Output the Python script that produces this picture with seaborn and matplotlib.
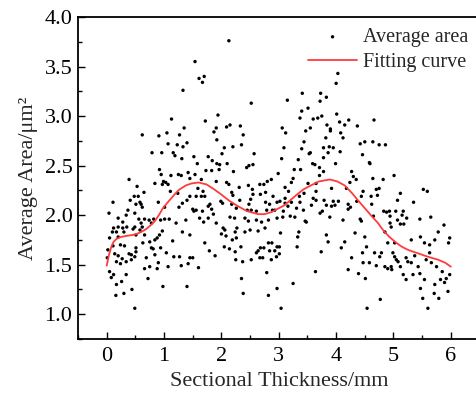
import matplotlib
matplotlib.use("Agg")
import matplotlib.pyplot as plt
import seaborn as sns
import pandas as pd
from matplotlib.ticker import MultipleLocator, FormatStrFormatter

# ---------------- data ----------------
# scattered measurements (thickness mm, average area um^2), grouped by picture region
pts_high = [(1.13,2.97),(1.35,2.88),(1.33,3.26),(1.54,3.55),(1.61,3.38),(1.70,3.40),(1.67,3.34),
            (1.72,2.95),(1.94,3.01),(2.13,3.76),(1.91,2.88),(2.09,2.89),(2.15,2.91),
            (4.03,3.43),(4.00,3.33),(2.52,3.13),(3.15,3.16),(3.41,3.23),(3.73,3.23),(3.83,3.19),
            (3.72,3.15),(3.51,3.08),(3.40,3.05),(3.37,2.98),(3.60,2.97),(3.68,2.98),(3.75,3.00),
            (4.01,3.02),(4.22,2.96),(4.66,2.96),(2.33,2.90),(3.06,2.88),(3.55,2.88),(3.84,2.91),
            (3.90,2.87),(4.06,2.94),(4.15,2.91),(4.37,2.90)]
pts_mid_a = [(.62,2.81),(.91,2.80),(1.05,2.83),(1.27,2.81),(1.40,2.73),(1.07,2.72),(1.23,2.71),(1.33,2.69),
             (.79,2.63),(.96,2.63),(1.16,2.63),(1.19,2.60),(1.31,2.57),(.92,2.46),(.95,2.41),(1.12,2.40),
             (1.25,2.41),(1.30,2.40),(1.42,2.43),(.39,2.36),(.84,2.32),(.99,2.34),(1.03,2.33),(1.07,2.31),
             (.97,2.31),(1.11,2.24),(1.24,2.22),(.53,2.29),(.65,2.23),(.11,2.13),(.48,2.19),(.55,2.19),
             (.41,2.15),(.58,2.13),(.60,2.11),(.51,2.11),(.62,2.08),(.90,2.13),(1.01,2.08),(1.26,2.08),
             (1.32,2.12),(1.40,2.15),(.04,2.02),(.37,2.05),(.34,2.00),(.20,1.97),(.49,2.02),(.56,1.96),
             (.66,1.96),(.74,1.95),(.82,1.96),(.94,1.95),(1.01,1.96),(1.09,1.96),(1.21,1.92),(1.38,1.95),
             (.28,1.93),(.60,1.92),(.78,1.92)]
pts_mid_b = [(1.87,2.84),(2.38,2.81),(1.92,2.76),(2.35,2.71),(2.20,2.69),(2.05,2.68),(2.01,2.62),(2.57,2.62),
             (1.52,2.59),(1.77,2.59),(1.84,2.55),(1.92,2.52),(1.97,2.51),(2.10,2.52),(1.58,2.52),(1.73,2.45),
             (1.83,2.45),(1.96,2.46),(2.21,2.44),(2.44,2.48),(2.48,2.50),(2.55,2.51),(2.99,2.42),(1.54,2.41),
             (1.45,2.37),(1.65,2.36),(1.91,2.34),(2.09,2.33),(2.13,2.31),(2.87,2.36),(2.80,2.34),(2.67,2.31),
             (2.74,2.31),(1.59,2.27),(1.68,2.24),(2.31,2.28),(2.47,2.30),(2.54,2.26),(2.18,2.23),(2.77,2.23),
             (1.65,2.19),(1.45,2.19),(1.56,2.19),(1.71,2.19),(2.20,2.20),(2.55,2.21),(2.68,2.21),(2.90,2.19),
             (2.51,2.16),(2.32,2.15),(1.99,2.14),(2.02,2.12),(1.80,2.11),(1.77,2.09),(2.18,2.11),(2.48,2.11),
             (2.77,2.13),(2.84,2.11),(2.97,2.13),(1.50,2.06),(1.56,2.05),(1.67,2.04),(1.83,2.06),(1.86,2.01),
             (2.26,2.07),(2.45,2.05),(2.52,2.05),(2.61,2.04),(2.79,2.05),(2.89,2.05),(2.93,2.05),(2.97,1.97),
             (1.77,1.97),(1.62,1.97),(2.15,1.98),(2.23,1.97),(2.41,1.97),(2.47,1.94),(2.61,1.95),(2.70,1.93),
             (2.82,1.95),(1.52,2.04),(1.91,1.92),(1.69,1.93)]
pts_mid_c = [(3.12,2.83),(3.47,2.85),(3.90,2.85),(4.08,2.83),(4.12,2.78),(3.44,2.74),(3.82,2.78),(4.42,2.72),
             (4.50,2.74),(3.09,2.68),(3.40,2.67),(3.78,2.68),(3.88,2.69),(3.95,2.68),(3.86,2.63),(4.07,2.64),
             (3.55,2.63),(3.53,2.62),(4.46,2.61),(3.05,2.57),(3.34,2.56),(3.78,2.58),(3.99,2.52),(3.59,2.52),
             (3.63,2.51),(4.58,2.53),(3.27,2.46),(3.38,2.46),(3.71,2.48),(3.78,2.44),(4.27,2.44),(4.30,2.39),
             (4.35,2.36),(3.25,2.37),(3.22,2.33),(3.71,2.40),(4.24,2.33),(3.11,2.28),(3.51,2.32),(3.65,2.32),
             (3.92,2.27),(3.17,2.24),(3.44,2.22),(3.65,2.24),(4.18,2.27),(4.47,2.24),(4.44,2.19),(3.11,2.17),
             (3.36,2.19),(3.60,2.17),(3.65,2.15),(3.79,2.15),(3.95,2.14),(4.04,2.14),(4.36,2.14),(3.02,2.14),
             (3.11,2.12),(3.16,2.09),(3.22,2.13),(3.37,2.13),(3.57,2.10),(3.83,2.10),(3.98,2.10),(4.21,2.11),
             (4.25,2.08),(4.21,2.06),(3.76,2.04),(3.92,2.09),(3.31,2.07),(3.43,2.05),(3.08,2.04),(3.20,1.99),
             (3.28,1.98),(3.07,1.98),(3.72,2.02),(3.89,1.98),(4.12,1.95),(4.42,1.96),(4.44,1.94),(3.46,1.94),
             (3.48,1.93)]
pts_mid_d = [(4.64,2.74),(4.75,2.71),(4.86,2.71),(4.59,2.52),(4.64,2.37),(4.82,2.36),(5.01,2.40),(4.70,2.26),
             (4.75,2.27),(5.12,2.22),(4.72,2.20),(5.52,2.26),(5.59,2.24),(4.61,2.19),(5.07,2.15),(4.62,2.11),
             (5.35,2.13),(4.83,2.04),(4.88,2.03),(4.93,2.04),(5.04,2.04),(5.17,2.04),(5.15,2.00),(4.94,1.99),
             (4.65,1.99),(5.23,1.97),(5.46,1.96),(5.65,1.98),(5.07,1.95),(4.94,1.92),(5.12,1.91),(5.18,1.91)]
pts_low_a = [(.12,1.87),(.20,1.88),(.28,1.87),(.35,1.88),(.46,1.86),(.49,1.88),(.58,1.85),(.10,1.83),
             (.17,1.83),(.30,1.83),(.05,1.77),(.20,1.78),(.51,1.80),(.02,1.65),(.11,1.69),(.24,1.70),
             (.31,1.69),(.51,1.67),(.14,1.61),(.01,1.57),(.20,1.59),(.27,1.56),(.39,1.61),(.43,1.60),
             (.49,1.58),(.43,1.55),(.17,1.53),(.24,1.51),(.34,1.53),(.51,1.63),(.05,1.43),(.12,1.40),
             (.08,1.37),(.34,1.40),(.26,1.33),(.17,1.30),(.16,1.19),(.30,1.21),(.44,1.25),(.49,1.06),
             (.69,1.57),(.75,1.48),(.66,1.46),(.72,1.36),(.63,1.72),(.75,1.73),(.78,1.67),(.81,1.66),
             (.84,1.75),(.88,1.77),(.92,1.80),(.97,1.84),(.84,1.60),(.90,1.52),(.88,1.46),(.98,1.28),
             (.94,1.67),(1.04,1.62),(1.07,1.48),(1.17,1.58),(1.27,1.58),(1.30,1.49),(1.40,1.28),(1.42,1.51),
             (1.15,1.74),(1.32,1.83),(1.45,1.80),(.66,1.80),(.62,1.88),(1.45,1.57)]
pts_low_b = [(1.50,1.57),(1.60,1.47),(1.71,1.72),(1.79,1.64),(1.89,1.59),(2.00,1.81),(2.03,1.87),(2.06,1.85),
             (2.08,1.79),(2.14,1.66),(2.05,1.68),(2.19,1.75),(2.26,1.77),(2.24,1.83),(2.27,1.87),(2.34,1.68),
             (2.24,1.63),(2.25,1.55),(2.37,1.53),(2.35,1.36),(2.38,1.21),(2.41,1.83),(2.50,1.85),(2.64,1.84),
             (2.76,1.87),(2.52,1.55),(2.61,1.62),(2.68,1.67),(2.74,1.67),(2.64,1.64),(2.82,1.72),(2.88,1.72),
             (2.84,1.64),(2.93,1.64),(2.97,1.68),(3.01,1.61),(2.96,1.58),(2.87,1.55),(2.72,1.57),(2.67,1.57),
             (2.79,1.42),(2.97,1.26),(2.82,1.19)]
pts_low_c = [(3.04,1.06),(3.01,1.68),(3.03,1.82),(3.25,1.31),(3.32,1.68),(3.33,1.78),(3.35,1.83),(3.64,1.43),
             (3.74,1.63),(3.83,1.80),(3.86,1.73),(4.09,1.67),(4.15,1.73),(4.21,1.45),(4.27,1.57),(4.33,1.82),
             (4.39,1.41),(4.46,1.62),(4.50,1.78),(4.53,1.68),(4.54,1.06),(4.47,1.52),(4.51,1.36),(4.58,1.52),
             (4.67,1.62),(4.70,1.49),(4.77,1.15),(4.76,1.58),(4.79,1.62),(4.85,1.48),(4.90,1.46),(4.96,1.48),
             (4.97,1.45),(4.99,1.62),(5.02,1.58),(5.05,1.55),(5.08,1.53),(5.12,1.48),(5.17,1.40),(5.22,1.35),
             (5.22,1.57),(5.25,1.53),(5.31,1.52),(5.34,1.40),(5.37,1.59),(5.43,1.48),(5.46,1.41),(5.47,1.26),
             (5.51,1.16),(5.54,1.35),(5.57,1.55),(5.60,1.06),(5.63,1.62),(5.66,1.52),(5.71,1.21),(5.72,1.30),
             (5.75,1.48),(5.79,1.16),(5.82,1.35),(5.85,1.43),(5.89,1.32),(5.92,1.36),(5.95,1.23),(5.98,1.40),
             (5.96,1.72),(5.98,1.77),(5.88,1.90),(5.78,1.83),(5.54,1.72),(5.63,1.70),(5.72,1.75),(5.47,1.78),
             (5.31,1.75),(5.02,1.72),(4.90,1.72),(4.85,1.83),(4.96,1.88)]

# fitting curve
fit_x = [0.00, 0.04, 0.08, 0.12, 0.17, 0.25, 0.34, 0.45, 0.52, 0.60, 0.69, 0.77, 0.84, 0.92, 0.98,
         1.05, 1.11, 1.20, 1.27, 1.38, 1.48, 1.60, 1.74, 1.85, 1.97, 2.06, 2.15, 2.29, 2.45, 2.64,
         2.75, 2.87, 3.00, 3.10, 3.22, 3.30, 3.43, 3.56, 3.70, 3.89, 4.02, 4.15, 4.28, 4.38, 4.50,
         4.62, 4.73, 4.83, 4.93, 5.05, 5.15, 5.25, 5.40, 5.60, 5.78, 5.90, 6.00]
fit_y = [1.49, 1.60, 1.68, 1.73, 1.76, 1.78, 1.79, 1.80, 1.81, 1.83, 1.86, 1.90, 1.94, 2.01, 2.07,
         2.12, 2.16, 2.22, 2.26, 2.30, 2.32, 2.33, 2.31, 2.27, 2.22, 2.18, 2.14, 2.09, 2.04, 2.01,
         2.01, 2.03, 2.07, 2.10, 2.16, 2.20, 2.26, 2.30, 2.34, 2.36, 2.34, 2.30, 2.22, 2.15, 2.07,
         1.99, 1.92, 1.84, 1.78, 1.72, 1.68, 1.65, 1.62, 1.58, 1.55, 1.52, 1.48]

x_ticks = [0, 1, 2, 3, 4, 5, 6]
y_ticks = [1.0, 1.5, 2.0, 2.5, 3.0, 3.5, 4.0]

all_pts = pts_high + pts_mid_a + pts_mid_b + pts_mid_c + pts_mid_d + pts_low_a + pts_low_b + pts_low_c
scatter_df = pd.DataFrame(all_pts, columns=["thickness", "area"])
fit_df = pd.DataFrame({"thickness": fit_x, "area": fit_y})

# ---------------- style ----------------
sns.set_style("ticks")
plt.rcParams['font.family'] = ['Liberation Serif', 'DejaVu Serif']
plt.rcParams['axes.linewidth'] = 1.3

fig = plt.figure(figsize=(4.76, 3.94), dpi=100)
ax = fig.add_axes([0.1639, 0.1396, 0.8435, 0.8173])

sns.scatterplot(data=scatter_df, x="thickness", y="area", ax=ax, s=6, color="black",
                edgecolor="none", linewidth=0, label="Average area", zorder=2)
sns.lineplot(data=fit_df, x="thickness", y="area", ax=ax, color="#ff3b3b", linewidth=1.3,
             label="Fitting curve", zorder=3, estimator=None, sort=True)

ax.set_xlim(-0.5, 6.5)
ax.set_ylim(0.75, 4.0)
ax.set_xticks(x_ticks)
ax.set_yticks(y_ticks)
ax.xaxis.set_minor_locator(MultipleLocator(0.5))
ax.yaxis.set_minor_locator(MultipleLocator(0.25))
ax.yaxis.set_major_formatter(FormatStrFormatter('%.1f'))
ax.tick_params(which='both', direction='in', top=False, right=False, colors='black',
               labelsize=16, width=1.0)
ax.tick_params(which='major', length=5, pad=6)
ax.tick_params(which='minor', length=3)
ax.tick_params(axis='y', which='major', pad=4)

for sp in ax.spines.values():
    sp.set_visible(True)
    sp.set_color('black')

ax.set_xlabel("Sectional Thickness/mm", fontsize=16, labelpad=4)
ax.set_ylabel("Average Area/μm²", fontsize=16, labelpad=5)

ax.legend(loc='upper right', bbox_to_anchor=(468/476, 1 - 28/394), bbox_transform=fig.transFigure,
          frameon=False, fontsize=14.5, handlelength=2.4, handletextpad=0.3, labelspacing=0.3,
          borderaxespad=0, borderpad=0, markerscale=1.0)

fig.savefig("out.png", dpi=100)
